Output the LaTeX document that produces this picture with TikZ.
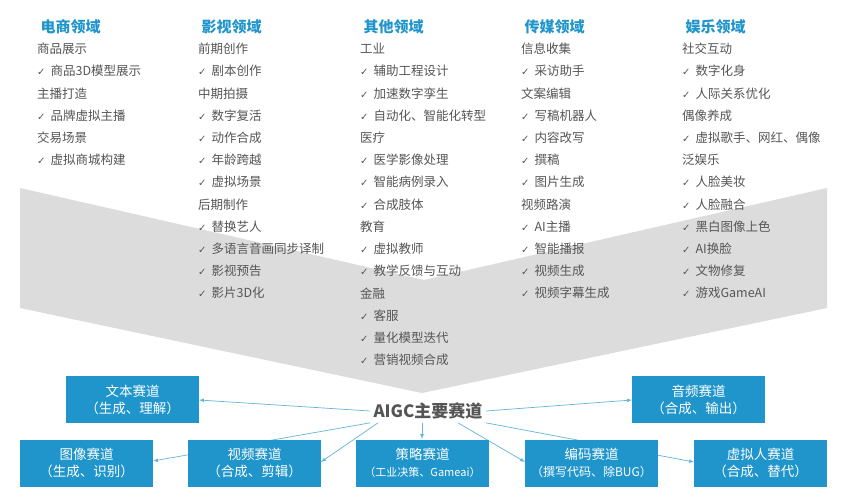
\documentclass[tikz,border=0pt]{standalone}
\usepackage{fontspec}
\setmainfont{Noto Sans CJK SC}
\newfontfamily\symfont{DejaVu Sans}
\definecolor{trackblue}{HTML}{1F95CB}
\definecolor{itemgray}{HTML}{555555}
\definecolor{chevgray}{HTML}{DCDCDC}
\tikzset{
  field/.style={anchor=west, text=trackblue, font=\fontsize{15}{15}\selectfont\bfseries},
  item/.style={anchor=west, text=itemgray, font=\fontsize{12.5}{13}\selectfont, inner sep=0pt},
  track/.style={fill=trackblue, text=white, minimum width=133pt, minimum height=47pt, align=center, inner sep=1pt, font=\fontsize{13.5}{17}\selectfont},
  link/.style={draw=trackblue!70, line width=0.7pt, -latex},
}
\newcommand{\chk}{{\symfont\fontsize{10}{10}\selectfont ✓}\hspace{5pt}}
\begin{document}
\begin{tikzpicture}[x=1pt, y=-1pt]
\useasboundingbox[fill=white] (0,0) rectangle (849,500);
% Chevron
\fill[chevgray] (20,188) -- (424,280) -- (827,188) -- (827,308) -- (422,393) -- (20,308) -- cycle;
% Fields
\node[field] at (37,27) {电商领域};
\node[field] at (198,27) {影视领域};
\node[field] at (360,27) {其他领域};
\node[field] at (521,27) {传媒领域};
\node[field] at (682,27) {娱乐领域};
\foreach \x/\list in {
  37/{商品展示,\chk 商品3D模型展示,主播打造,\chk 品牌虚拟主播,交易场景,\chk 虚拟商城构建},
  198/{前期创作,\chk 剧本创作,中期拍摄,\chk 数字复活,\chk 动作合成,\chk 年龄跨越,\chk 虚拟场景,后期制作,\chk 替换艺人,\chk 多语言音画同步译制,\chk 影视预告,\chk 影片3D化},
  360/{工业,\chk 辅助工程设计,\chk 加速数字孪生,\chk 自动化、智能化转型,医疗,\chk 医学影像处理,\chk 智能病例录入,\chk 合成肢体,教育,\chk 虚拟教师,\chk 教学反馈与互动,金融,\chk 客服,\chk 量化模型迭代,\chk 营销视频合成},
  521/{信息收集,\chk 采访助手,文案编辑,\chk 写稿机器人,\chk 内容改写,\chk 撰稿,\chk 图片生成,视频路演,\chk AI主播,\chk 智能播报,\chk 视频生成,\chk 视频字幕生成},
  682/{社交互动,\chk 数字化身,\chk 人际关系优化,偶像养成,\chk 虚拟歌手、网红、偶像,泛娱乐,\chk 人脸美妆,\chk 人脸融合,\chk 黑白图像上色,\chk AI换脸,\chk 文物修复,\chk 游戏GameAI}}
  \foreach \t [count=\i from 0] in \list
    \node[item] at (\x,49+22.2*\i) {\t};
% Tracks
\node[text=itemgray, font=\fontsize{17}{17}\selectfont\bfseries] (aigc) at (428,411) {AIGC主要赛道};
\draw[link] (aigc.west) -- (199,400) coordinate (textin);
\draw[link] (aigc.east) -- (632,400);
\draw[link] (aigc.south west) -- (153,461);
\draw[link] ([xshift=8pt]aigc.south west) -- (321,462);
\draw[link] ([xshift=-6pt]aigc.south) -- (422,439);
\draw[link] ([xshift=30pt]aigc.south) -- (525,462);
\draw[link] (aigc.south east) -- (694,462);
\node[track] (text) at (132.5,399.5) {文本赛道\\（生成、理解）};
\node[track] (audio) at (698.5,399.5) {音频赛道\\（合成、输出）};
\node[track] (image) at (86.5,463) {图像赛道\\（生成、识别）};
\node[track] (video) at (254.5,463) {视频赛道\\（合成、剪辑）};
\node[track] (strategy) at (422.5,463) {策略赛道\\{\fontsize{11}{14}\selectfont（工业决策、Gameai）}};
\node[track] (code) at (591.5,463) {编码赛道\\{\fontsize{12}{15}\selectfont（撰写代码、除BUG）}};
\node[track] (avatar) at (760.5,463) {虚拟人赛道\\（合成、替代）};
\end{tikzpicture}
\end{document}
